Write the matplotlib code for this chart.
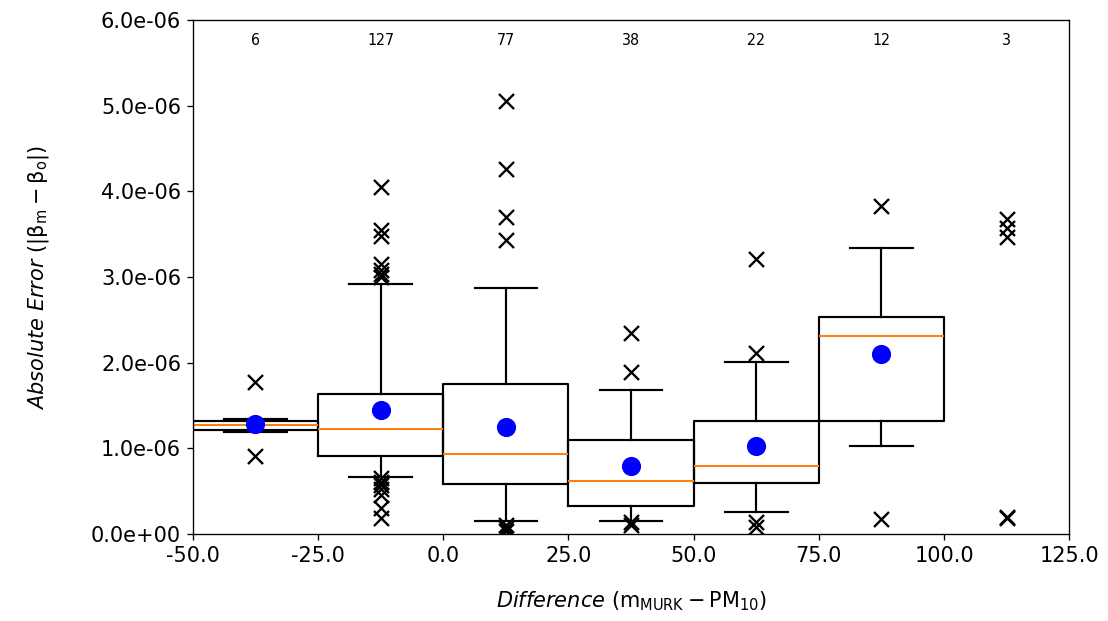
import matplotlib.pyplot as plt
from matplotlib.ticker import FormatStrFormatter
import matplotlib.transforms as mtransforms

# bin centres and counts
positions = [-37.5, -12.5, 12.5, 37.5, 62.5, 87.5]
counts = [6, 127, 77, 38, 22, 12, 3]
count_pos = [-37.5, -12.5, 12.5, 37.5, 62.5, 87.5, 112.5]

# box statistics (units 1e-6)
q1 = [1.22, 0.91, 0.58, 0.33, 0.60, 1.32]
q3 = [1.32, 1.63, 1.75, 1.10, 1.32, 2.53]
med = [1.27, 1.23, 0.93, 0.62, 0.80, 2.31]
whislo = [1.19, 0.67, 0.15, 0.155, 0.26, 1.03]
whishi = [1.34, 2.92, 2.87, 1.68, 2.01, 3.34]
means = [1.29, 1.45, 1.25, 0.79, 1.03, 2.10]
fliers = [
    [1.77, 0.91],
    [4.05, 3.55, 3.48, 3.15, 3.08, 3.03, 3.00, 0.65, 0.61, 0.57, 0.52, 0.45, 0.30, 0.19],
    [5.05, 4.26, 3.70, 3.43, 0.10, 0.07, 0.04],
    [2.35, 1.89, 0.14, 0.11],
    [3.21, 2.11, 0.14, 0.085],
    [3.83, 0.17],
]
# last bin: only points drawn
last_x = 112.5
last_pts = [3.68, 3.57, 3.47, 0.20, 0.19]

plt.rcParams['font.size'] = 10
fig = plt.figure(figsize=(1108 / 120, 621 / 120), dpi=120)
ax = fig.add_axes([0.174, 0.14, 0.791, 0.828])

stats = []
for i in range(len(positions)):
    stats.append(dict(med=med[i] * 1e-6, q1=q1[i] * 1e-6, q3=q3[i] * 1e-6,
                      whislo=whislo[i] * 1e-6, whishi=whishi[i] * 1e-6,
                      mean=means[i] * 1e-6,
                      fliers=[f * 1e-6 for f in fliers[i]]))

ax.bxp(stats, positions=positions, widths=25, showmeans=True,
       boxprops=dict(color='black', linewidth=1.3),
       whiskerprops=dict(color='black', linewidth=1.3),
       capprops=dict(color='black', linewidth=1.3),
       medianprops=dict(color='#ff7f0e', linewidth=1.2),
       meanprops=dict(marker='o', markerfacecolor='blue', markeredgecolor='blue', markersize=10.5),
       flierprops=dict(marker='x', markeredgecolor='black', markersize=9, markeredgewidth=1.4))
ax.plot([last_x] * len(last_pts), [p * 1e-6 for p in last_pts], 'x', color='black',
        markersize=9, markeredgewidth=1.4)

trans = mtransforms.blended_transform_factory(ax.transData, ax.transAxes)
for x, n in zip(count_pos, counts):
    ax.text(x, 0.96, str(n), transform=trans, ha='center', va='center',
            fontsize=9.5, fontstretch='condensed')

ax.set_xlim(-50, 125)
ax.set_ylim(0, 6e-6)
ax.set_xticks([-50, -25, 0, 25, 50, 75, 100, 125])
ax.set_xticklabels(['-50.0', '-25.0', '0.0', '25.0', '50.0', '75.0', '100.0', '125.0'])
ax.yaxis.set_major_formatter(FormatStrFormatter('%.1e'))
ax.tick_params(labelsize=12.5)
ax.set_xlabel(r'$\it{Difference}$ $\rm{(m_{MURK} - PM_{10})}$', fontsize=12.5, labelpad=14)
ax.set_ylabel(r'$\it{Absolute\ Error}$ $\rm{(|\beta_m - \beta_o|)}$', fontsize=12.5, labelpad=24)

fig.savefig('out.png', dpi=120)
